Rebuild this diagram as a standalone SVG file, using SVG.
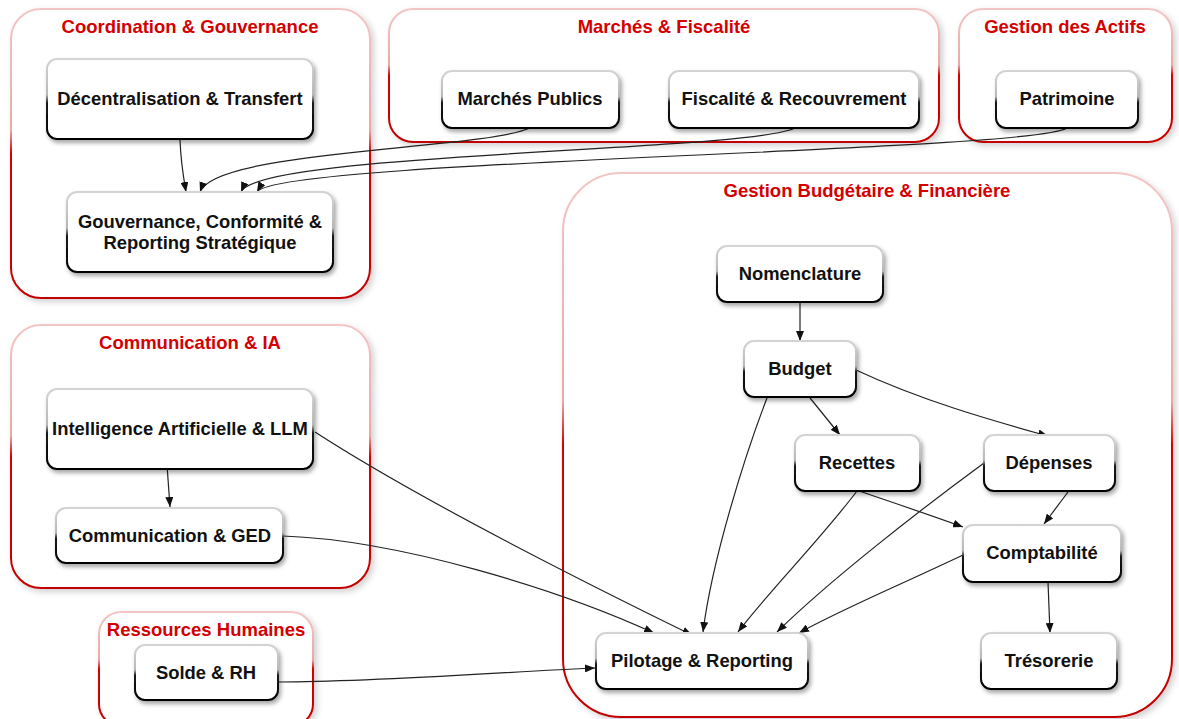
<svg xmlns="http://www.w3.org/2000/svg" width="1179" height="719" viewBox="0 0 1179 719">
<defs>
<linearGradient id="gNode" x1="0" y1="0" x2="0" y2="1">
<stop offset="0" stop-color="#d4d4d4"/><stop offset="0.45" stop-color="#b8b8b8"/><stop offset="0.55" stop-color="#1a1a1a"/><stop offset="1" stop-color="#000"/>
</linearGradient>
<linearGradient id="gCont" x1="0" y1="0" x2="0" y2="1">
<stop offset="0" stop-color="#f3c6c6"/><stop offset="0.42" stop-color="#eaa8a8"/><stop offset="0.5" stop-color="#d40000"/><stop offset="1" stop-color="#c40000"/>
</linearGradient>
<filter id="shN" x="-10%" y="-20%" width="125%" height="150%">
<feDropShadow dx="2" dy="3" stdDeviation="2" flood-color="#000" flood-opacity="0.35"/>
</filter>
<filter id="shC" x="-5%" y="-5%" width="112%" height="112%">
<feDropShadow dx="3" dy="3" stdDeviation="3" flood-color="#000" flood-opacity="0.18"/>
</filter>
<marker id="arr" viewBox="0 0 10 8" refX="10" refY="4" markerWidth="10" markerHeight="8" markerUnits="userSpaceOnUse" orient="auto">
<path d="M0,0 L10,4 L0,8 z" fill="#111"/>
</marker>
<style>
.cont{fill:#fff;stroke:url(#gCont);stroke-width:2;filter:url(#shC)}
.node{fill:#fff;stroke:url(#gNode);stroke-width:2;filter:url(#shN)}
.title{font-family:"Liberation Sans",Arial,sans-serif;font-weight:bold;font-size:18.5px;fill:#d40000;text-anchor:middle}
.lbl{font-family:"Liberation Sans",Arial,sans-serif;font-weight:bold;font-size:18.4px;fill:#111;text-anchor:middle}
.edge{fill:none;stroke:#222;stroke-width:1.2;marker-end:url(#arr)}
</style>
</defs>
<rect width="1179" height="719" fill="#fff"/>

<!-- containers -->
<g id="grp-coordination">
<rect class="cont" x="11" y="9" width="359" height="289" rx="30"/>
<text class="title" x="190" y="33">Coordination &amp; Gouvernance</text>
</g>
<g id="grp-marches">
<rect class="cont" x="389" y="9" width="550" height="133" rx="24"/>
<text class="title" x="664" y="33">Marchés &amp; Fiscalité</text>
</g>
<g id="grp-actifs">
<rect class="cont" x="959" y="9" width="213" height="133" rx="24"/>
<text class="title" x="1065" y="33">Gestion des Actifs</text>
</g>
<g id="grp-budget">
<rect class="cont" x="563" y="173" width="609" height="544" rx="58"/>
<text class="title" x="867" y="197">Gestion Budgétaire &amp; Financière</text>
</g>
<g id="grp-communication">
<rect class="cont" x="11" y="325" width="359" height="263" rx="30"/>
<text class="title" x="190" y="349">Communication &amp; IA</text>
</g>
<g id="grp-rh">
<rect class="cont" x="99" y="612" width="214" height="114" rx="22"/>
<text class="title" x="206" y="636">Ressources Humaines</text>
</g>

<!-- connectors -->
<g id="connectors">
<path class="edge" d="M180,140 C181,165 184,180 186,192"/>
<path class="edge" d="M530,128 C480,150 215,150 200,192"/>
<path class="edge" d="M795,128 C745,152 258,152 241,192"/>
<path class="edge" d="M1067,128 C1030,152 275,160 257,192"/>
<path class="edge" d="M800,302 L800,341"/>
<path class="edge" d="M856,370 C920,400 990,420 1048,436"/>
<path class="edge" d="M810,398 L840,435"/>
<path class="edge" d="M767,398 C745,455 712,560 703,632"/>
<path class="edge" d="M859,491 C900,505 930,515 963,527"/>
<path class="edge" d="M857,491 C820,540 770,590 738,632"/>
<path class="edge" d="M984,463 C920,510 830,580 777,632"/>
<path class="edge" d="M1068,492 L1044,524"/>
<path class="edge" d="M963,555 C900,585 840,610 799,633"/>
<path class="edge" d="M1048,582 L1050,633"/>
<path class="edge" d="M315,432 C420,500 600,590 692,635"/>
<path class="edge" d="M283,536 C400,540 560,590 654,633"/>
<path class="edge" d="M278,682 C380,682 500,672 595,668"/>
<path class="edge" d="M167,465 L170,507"/>
</g>

<!-- nodes -->
<g id="n-decentralisation">
<rect class="node" x="47" y="59" width="266" height="80" rx="10"/>
<text class="lbl" x="180" y="105">Décentralisation &amp; Transfert</text>
</g>
<g id="n-gouvernance">
<rect class="node" x="67" y="192" width="266" height="80" rx="10"/>
<text class="lbl" x="200" y="228">Gouvernance, Conformité &amp;</text>
<text class="lbl" x="200" y="249">Reporting Stratégique</text>
</g>
<g id="n-marches-publics">
<rect class="node" x="442" y="71" width="177" height="57" rx="10"/>
<text class="lbl" x="530" y="105">Marchés Publics</text>
</g>
<g id="n-fiscalite">
<rect class="node" x="669" y="71" width="250" height="57" rx="10"/>
<text class="lbl" x="794" y="105">Fiscalité &amp; Recouvrement</text>
</g>
<g id="n-patrimoine">
<rect class="node" x="996" y="71" width="142" height="57" rx="10"/>
<text class="lbl" x="1067" y="105">Patrimoine</text>
</g>
<g id="n-nomenclature">
<rect class="node" x="717" y="246" width="166" height="56" rx="10"/>
<text class="lbl" x="800" y="280">Nomenclature</text>
</g>
<g id="n-budget">
<rect class="node" x="744" y="341" width="112" height="56" rx="10"/>
<text class="lbl" x="800" y="375">Budget</text>
</g>
<g id="n-recettes">
<rect class="node" x="795" y="435" width="125" height="56" rx="10"/>
<text class="lbl" x="857" y="469">Recettes</text>
</g>
<g id="n-depenses">
<rect class="node" x="984" y="435" width="131" height="56" rx="10"/>
<text class="lbl" x="1049" y="469">Dépenses</text>
</g>
<g id="n-comptabilite">
<rect class="node" x="963" y="525" width="158" height="57" rx="10"/>
<text class="lbl" x="1042" y="559">Comptabilité</text>
</g>
<g id="n-pilotage">
<rect class="node" x="596" y="633" width="212" height="56" rx="10"/>
<text class="lbl" x="702" y="667">Pilotage &amp; Reporting</text>
</g>
<g id="n-tresorerie">
<rect class="node" x="981" y="633" width="136" height="56" rx="10"/>
<text class="lbl" x="1049" y="667">Trésorerie</text>
</g>
<g id="n-ia">
<rect class="node" x="47" y="389" width="266" height="80" rx="10"/>
<text class="lbl" x="180" y="435">Intelligence Artificielle &amp; LLM</text>
</g>
<g id="n-ged">
<rect class="node" x="56" y="508" width="227" height="55" rx="10"/>
<text class="lbl" x="170" y="542">Communication &amp; GED</text>
</g>
<g id="n-solde">
<rect class="node" x="135" y="645" width="143" height="55" rx="10"/>
<text class="lbl" x="206" y="679">Solde &amp; RH</text>
</g>
</svg>
